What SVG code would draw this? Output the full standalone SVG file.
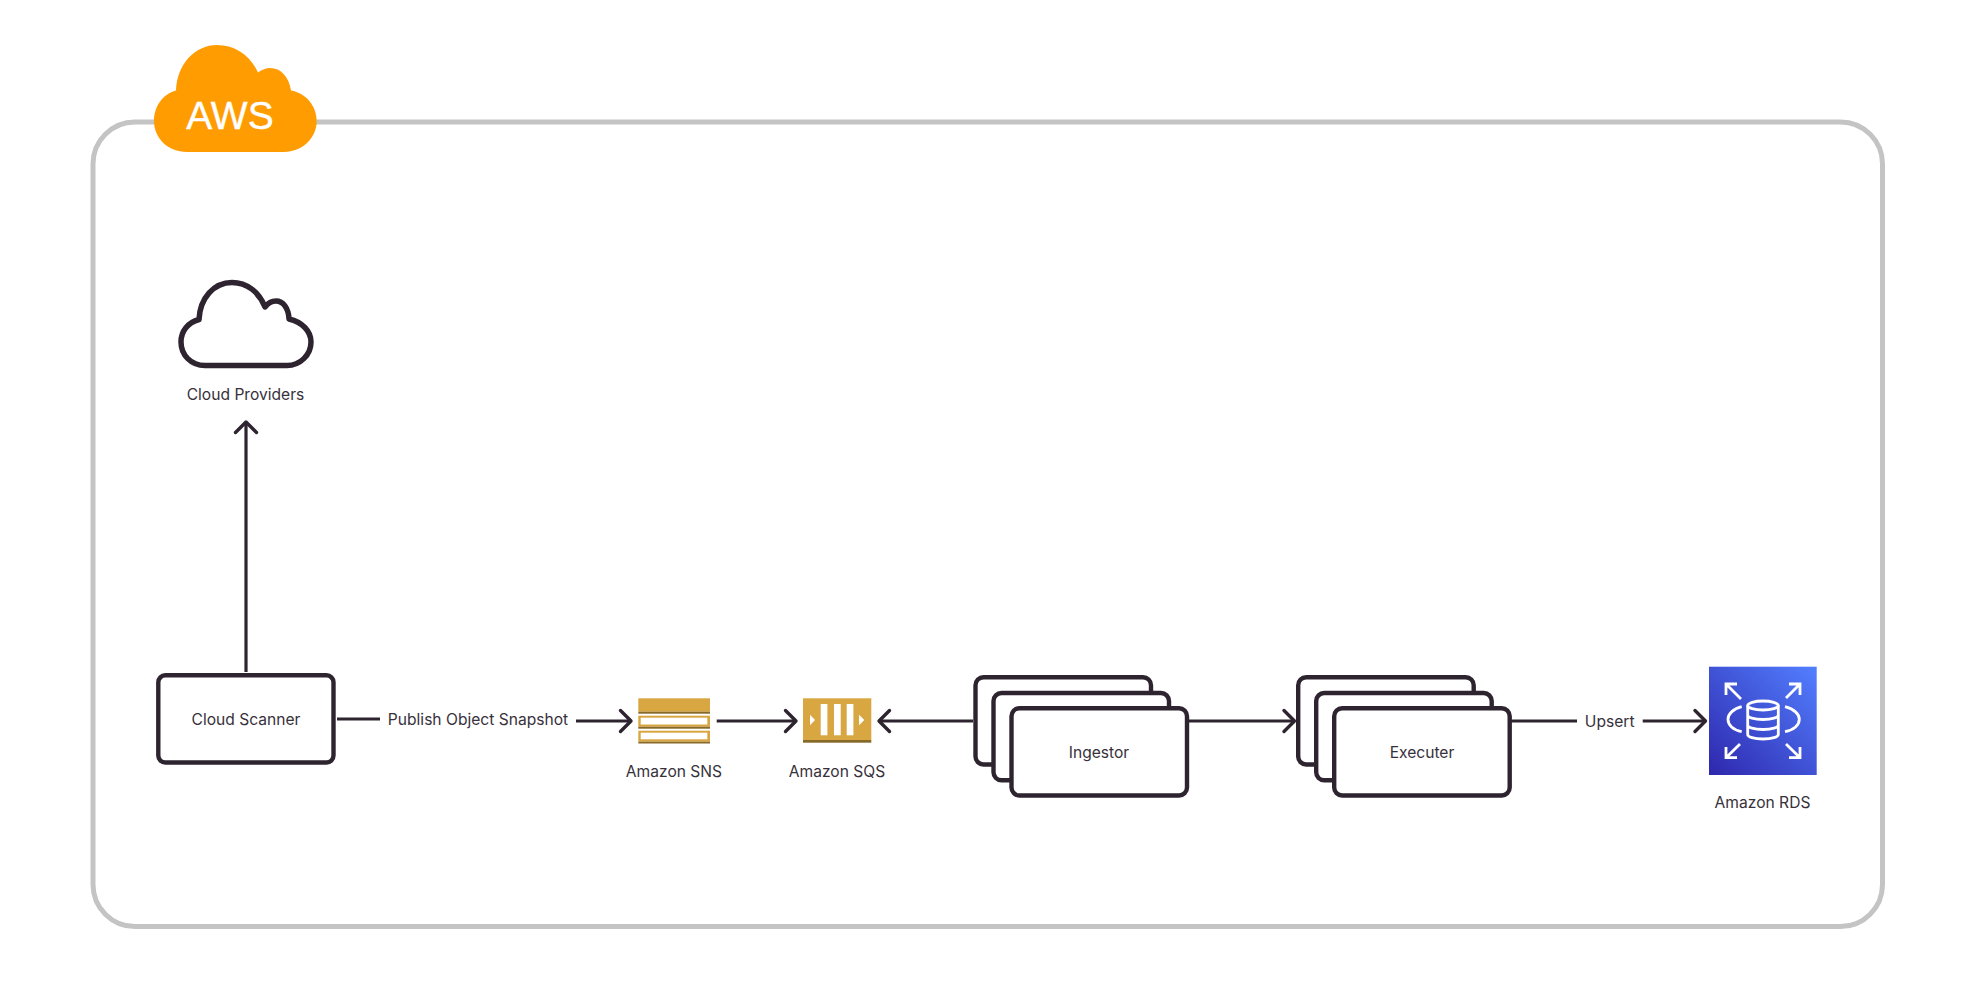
<svg xmlns="http://www.w3.org/2000/svg" width="1977" height="995" viewBox="0 0 1977 995">
<style>
.t{font-family:Inter,"Liberation Sans",sans-serif;font-size:15.6px;fill:#37313b;text-anchor:middle}
.box{fill:#fff;stroke:#2d2430;stroke-width:4.4}
.ln{fill:none;stroke:#2d2430;stroke-width:3.2}
.hd{fill:none;stroke:#2d2430;stroke-width:3.4;stroke-linecap:round;stroke-linejoin:round}
.w{fill:none;stroke:#fff;stroke-width:2.8}
.g{fill:#D9A741}.d{fill:#876929}.wf{fill:#fff}
</style>
<defs>
<linearGradient id="rds" x1="0" y1="1" x2="1" y2="0"><stop offset="0" stop-color="#2E27AD"/><stop offset="1" stop-color="#527FFF"/></linearGradient>
</defs>
<rect width="1977" height="995" fill="#fff"/>
<g id="aws-frame">
<rect x="93" y="122" width="1789.500" height="804.500" rx="42" fill="none" stroke="#c4c4c4" stroke-width="5"/>
<path d="M187 152C168 152 154 138 154 121C154 106 163 94 176 90.500C177 64 195 45 217 45C235 45 250 55 258 72.500C262 69.500 266 68 270 68C281 68 289 77 291 90.500C306 93 316.700 106 316.700 121C316.700 138 302 152 284 152Z" fill="#FF9C02"/>
<text x="230" y="128.700" font-family="'Liberation Sans',Arial,sans-serif" font-size="39" fill="#fff" stroke="#fff" stroke-width="0.4" text-anchor="middle">AWS</text>
</g>
<g id="connectors">
<path class="ln" d="M246 672V423"/><path class="hd" d="M235.500 432.500L246 422L256.500 432.500"/>
<path class="ln" d="M337 719H380M576 721H630"/><path class="hd" d="M620.500 710.500L631 721L620.500 731.500"/>
<path class="ln" d="M716.700 721H794"/><path class="hd" d="M785.500 710.500L796 721L785.500 731.500"/>
<path class="ln" d="M880 721H973"/><path class="hd" d="M889.500 710.500L879 721L889.500 731.500"/>
<path class="ln" d="M1189 721H1293"/><path class="hd" d="M1284 710.500L1294.500 721L1284 731.500"/>
<path class="ln" d="M1511 721H1577M1642.700 721H1704"/><path class="hd" d="M1695 710.500L1705.500 721L1695 731.500"/>
<text class="t" x="478" y="725">Publish Object Snapshot</text>
<text class="t" x="1609.700" y="727">Upsert</text>
</g>
<g id="cloud-providers">
<path d="M205 365.500C191 365.500 181 355 181 342C181 331 188 322.500 199 319.500C200 298 214 282.500 232 282.500C247 282.500 259 292 265 307C268 303 272 301 276 301C283 301 288.500 308 289 319C302 322 311 331 311 342C311 355 300 365.500 287 365.500Z" fill="none" stroke="#2d2430" stroke-width="5.500" stroke-linejoin="round"/>
<text class="t" x="245.500" y="400">Cloud Providers</text>
</g>
<g id="cloud-scanner">
<rect class="box" x="158.300" y="675.300" width="175.200" height="87.200" rx="7"/>
<text class="t" x="246" y="725">Cloud Scanner</text>
</g>
<g id="amazon-sns">
<rect class="g" x="638.300" y="698.300" width="71.700" height="13.400"/><rect class="d" x="638.300" y="711.700" width="71.700" height="2"/>
<rect class="g" x="638.300" y="715.700" width="71.700" height="11"/><rect class="wf" x="640.700" y="717.700" width="66.600" height="6.800"/><rect class="d" x="638.300" y="726.700" width="71.700" height="2"/>
<rect class="g" x="638.300" y="730.700" width="71.700" height="11"/><rect class="wf" x="640.700" y="732.700" width="66.600" height="6.600"/><rect class="d" x="638.300" y="741.700" width="71.700" height="1.800"/>
<text class="t" x="674" y="776.700">Amazon SNS</text>
</g>
<g id="amazon-sqs">
<rect class="g" x="803" y="698.300" width="68.300" height="41.700"/><rect class="d" x="803" y="740" width="68.300" height="2.700"/>
<rect class="wf" x="820.700" y="704" width="6.700" height="31.300"/><rect class="wf" x="834" y="704" width="6.700" height="31.300"/><rect class="wf" x="846.700" y="704" width="6.700" height="31.300"/>
<path class="wf" d="M810 714.700L815 720L810 725.300ZM859 714.700L864.300 720L859 725.300Z"/>
<text class="t" x="837" y="776.700">Amazon SQS</text>
</g>
<g id="ingestor">
<rect class="box" x="975.500" y="677.200" width="175.500" height="87.300" rx="8"/>
<rect class="box" x="993.500" y="693" width="175.500" height="87.300" rx="8"/>
<rect class="box" x="1011.500" y="708.200" width="175.500" height="87.300" rx="8"/>
<text class="t" x="1099" y="757.700">Ingestor</text>
</g>
<g id="executer">
<rect class="box" x="1298.200" y="677.200" width="175.500" height="87.300" rx="8"/>
<rect class="box" x="1316.200" y="693" width="175.500" height="87.300" rx="8"/>
<rect class="box" x="1334.200" y="708.200" width="175.500" height="87.300" rx="8"/>
<text class="t" x="1422" y="757.700">Executer</text>
</g>
<g id="amazon-rds">
<rect x="1709" y="666.700" width="107.700" height="108.300" fill="url(#rds)"/>
<path class="w" d="M1726 695V684H1737M1726 684L1741 699M1789 684H1800V695M1800 684L1786 698M1726 747V757.700H1737M1726 757.700L1740 744M1789 757.700H1800V747M1800 757.700L1786 744"/>
<path class="w" d="M1741.700 706.700C1733 709 1728 714 1728 719.300C1728 725 1733 730 1741.700 731.700M1785 706.700C1794 709 1799.300 714 1799.300 719.300C1799.300 725 1794 730 1785 731.700"/>
<ellipse class="w" cx="1763" cy="705.500" rx="15.300" ry="4.500"/>
<path class="w" d="M1747.700 705.500V734.500C1747.700 737 1754 739 1763 739C1772 739 1778.300 737 1778.300 734.500V705.500M1747.700 715C1747.700 717.500 1754 719.500 1763 719.500C1772 719.500 1778.300 717.500 1778.300 715M1747.700 725C1747.700 727.500 1754 729.500 1763 729.500C1772 729.500 1778.300 727.500 1778.300 725"/>
<text class="t" x="1762.500" y="807.700">Amazon RDS</text>
</g>
</svg>
